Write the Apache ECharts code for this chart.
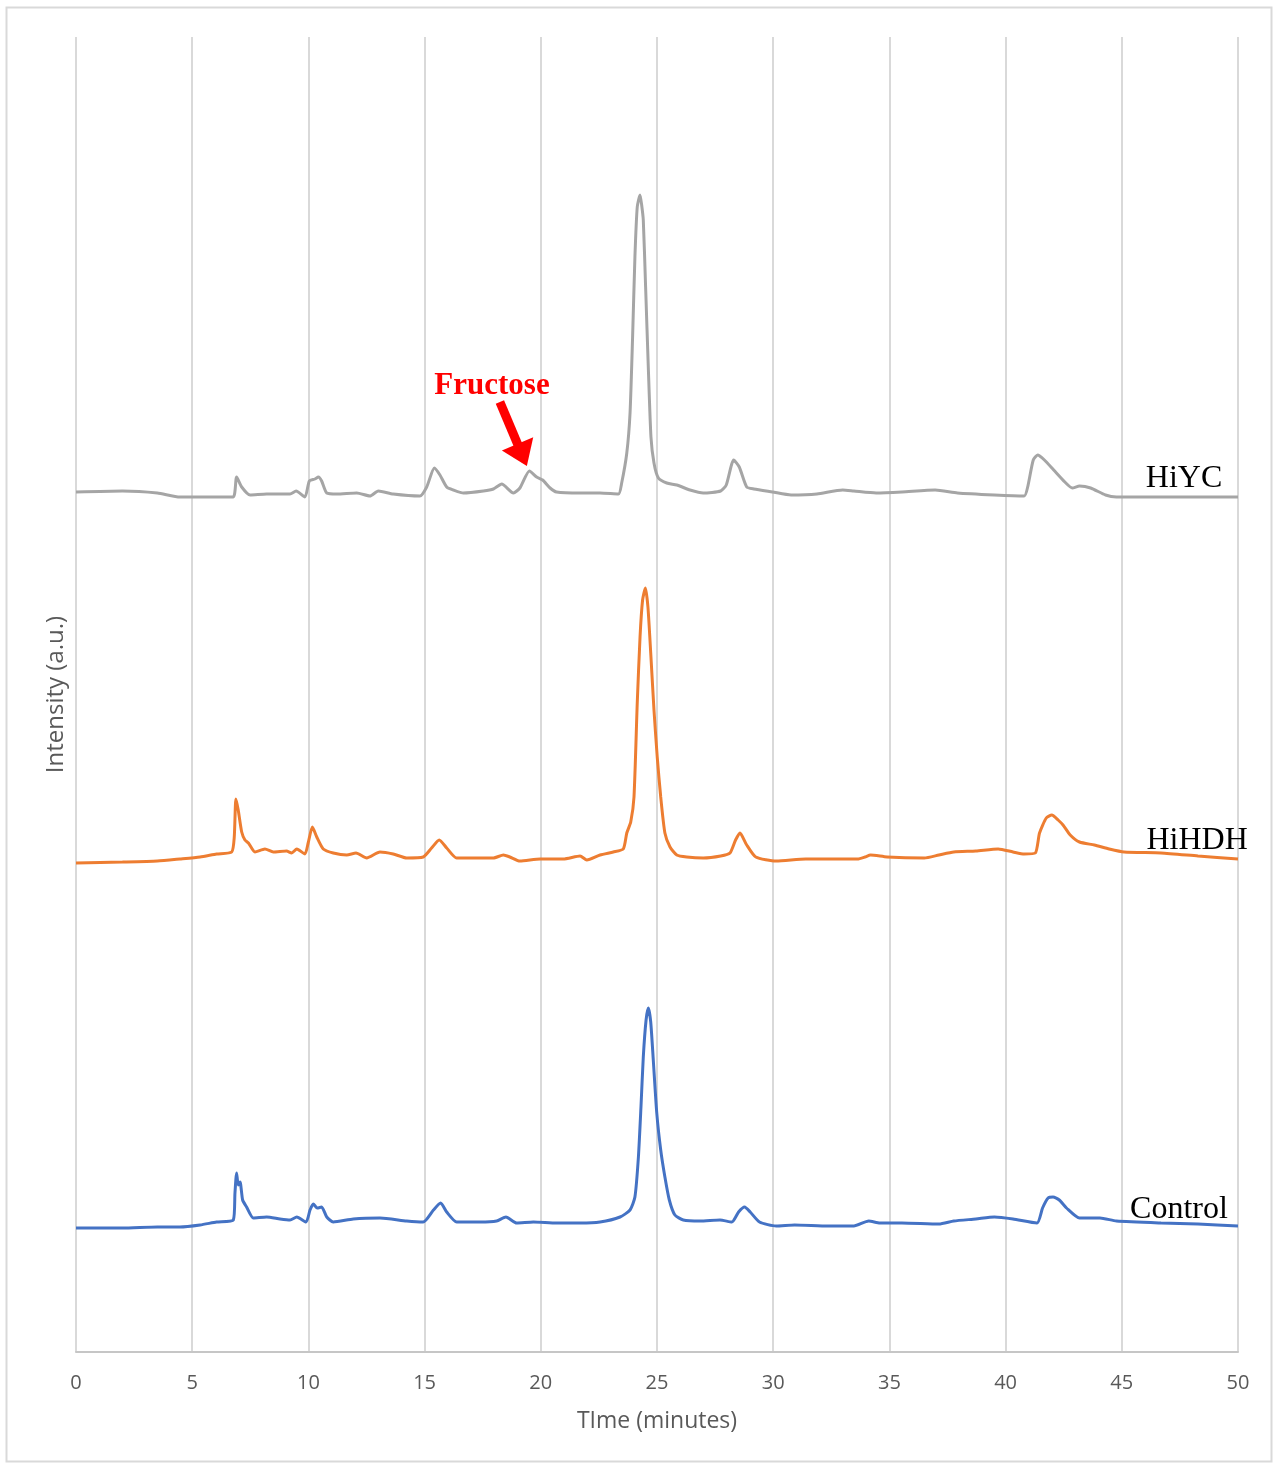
<!DOCTYPE html>
<html>
<head>
<meta charset="utf-8">
<title>Chromatogram</title>
<script src="https://cdn.jsdelivr.net/npm/echarts@6/dist/echarts.min.js"></script>
<style>
  html, body { margin: 0; padding: 0; background: #ffffff; }
  #chart { width: 1276px; height: 1465px; }
</style>
</head>
<body>
<div id="chart"></div>
<script>
// Retention time ticks (minutes)
const timeTicks = [0, 5, 10, 15, 20, 25, 30, 35, 40, 45, 50];

// HiYC trace (stacked on top)
const hiycTime = [0, 2, 3.5, 4.47, 5.3, 6.05, 6.77, 6.91, 7.13, 7.49, 8.2, 9.21, 9.47, 9.85, 10.04, 10.28, 10.43, 10.57, 10.79, 11.22, 12.08, 12.65, 13.01, 13.65, 14.8, 15.09, 15.42, 15.66, 15.95, 16.24, 16.67, 17.53, 17.96, 18.32, 18.82, 19.1, 19.51, 19.82, 20.08, 20.4, 20.68, 21.69, 22.55, 23.34, 23.48, 23.7, 23.84, 23.95, 24.05, 24.15, 24.27, 24.34, 24.41, 24.51, 24.63, 24.74, 24.87, 25.06, 25.42, 25.85, 26.42, 26.99, 27.74, 27.98, 28.3, 28.54, 28.86, 29.17, 29.97, 30.77, 31.88, 32.99, 33.47, 34.43, 35.54, 36.97, 37.93, 39.52, 40.8, 40.95, 41.19, 41.38, 41.67, 42.07, 42.55, 42.87, 43.18, 43.66, 44.3, 44.77, 46.69, 50];
const hiycSignal = [86.0, 86.1, 85.9, 85.5, 85.5, 85.5, 85.5, 87.5, 86.5, 85.7, 85.8, 85.8, 86.1, 85.5, 87.1, 87.3, 87.5, 87.1, 85.9, 85.8, 85.9, 85.6, 86.1, 85.8, 85.6, 86.5, 88.4, 87.7, 86.5, 86.2, 85.9, 86.1, 86.3, 86.8, 85.9, 86.4, 88.1, 87.5, 87.2, 86.4, 86.0, 85.9, 85.9, 85.8, 86.9, 89.9, 93.9, 101.5, 109.5, 114.5, 115.7, 114.7, 113.2, 106.5, 98.2, 91.5, 88.9, 87.4, 86.9, 86.7, 86.2, 85.9, 86.1, 86.7, 89.2, 88.5, 86.5, 86.3, 86.0, 85.7, 85.8, 86.2, 86.1, 85.9, 86.0, 86.2, 85.9, 85.7, 85.6, 86.5, 89.2, 89.7, 89.2, 88.2, 87.0, 86.4, 86.6, 86.4, 85.7, 85.5, 85.5, 85.5];

// HiHDH trace (middle)
const hihdhTime = [0, 2, 3.5, 4.47, 5.34, 6.05, 6.7, 6.81, 6.88, 6.98, 7.13, 7.27, 7.42, 7.7, 8.13, 8.49, 9.06, 9.28, 9.5, 9.85, 9.99, 10.17, 10.36, 10.64, 11.07, 11.65, 12.05, 12.51, 13.08, 13.65, 14.23, 14.94, 15.3, 15.63, 15.95, 16.38, 17.38, 17.96, 18.39, 18.67, 19.1, 19.97, 20.97, 21.69, 21.98, 22.55, 23.12, 23.55, 23.7, 23.87, 24.01, 24.15, 24.27, 24.38, 24.5, 24.61, 24.73, 24.87, 25.01, 25.16, 25.34, 25.56, 25.85, 26.28, 26.99, 27.74, 28.14, 28.38, 28.57, 28.86, 29.25, 30.13, 31.4, 33.63, 33.95, 34.19, 34.9, 36.5, 37.13, 37.77, 38.72, 39.68, 40.32, 40.8, 41.28, 41.46, 41.75, 41.99, 42.26, 42.47, 42.78, 43.18, 43.82, 44.46, 45.1, 46.69, 48.28, 50];
const hihdhSignal = [48.9, 49.0, 49.1, 49.3, 49.5, 49.8, 50.0, 51.5, 55.3, 54.2, 52.0, 51.2, 50.9, 50.0, 50.3, 50.0, 50.1, 49.9, 50.3, 49.8, 50.9, 52.5, 51.5, 50.3, 49.9, 49.7, 49.9, 49.4, 50.0, 49.8, 49.4, 49.5, 50.4, 51.2, 50.4, 49.4, 49.4, 49.4, 49.7, 49.5, 49.1, 49.3, 49.3, 49.6, 49.2, 49.7, 50.0, 50.3, 51.9, 53.0, 55.5, 64.9, 71.5, 75.2, 76.4, 74.5, 69.9, 64.2, 59.5, 55.5, 51.9, 50.5, 49.7, 49.5, 49.4, 49.6, 49.9, 51.2, 51.9, 50.7, 49.5, 49.1, 49.3, 49.3, 49.5, 49.7, 49.5, 49.4, 49.7, 50.0, 50.1, 50.3, 50.0, 49.8, 49.9, 51.9, 53.4, 53.7, 53.2, 52.7, 51.7, 51.0, 50.7, 50.3, 50.0, 49.9, 49.6, 49.3];

// Control trace (bottom)
const controlTime = [0, 2, 3.5, 4.47, 5.34, 6.05, 6.77, 6.84, 6.91, 6.98, 7.06, 7.17, 7.34, 7.63, 8.2, 8.78, 9.21, 9.5, 9.9, 10.07, 10.21, 10.38, 10.57, 10.79, 11.07, 11.93, 13.08, 14.23, 14.94, 15.38, 15.69, 15.95, 16.38, 17.38, 18.1, 18.5, 18.96, 19.68, 20.68, 21.69, 22.55, 23.41, 23.84, 24.05, 24.2, 24.31, 24.41, 24.53, 24.63, 24.73, 24.84, 24.99, 25.16, 25.34, 25.53, 25.77, 26.13, 26.85, 27.71, 28.22, 28.51, 28.77, 29.01, 29.41, 30.13, 30.92, 32.36, 33.47, 34.11, 34.59, 35.54, 37.13, 37.77, 38.72, 39.52, 40.32, 41.35, 41.59, 41.83, 42.04, 42.31, 42.62, 43.18, 44.06, 44.77, 46.69, 48.28, 50];
const controlSignal = [12.4, 12.4, 12.5, 12.5, 12.7, 13.0, 13.2, 15.9, 17.9, 16.7, 17.0, 15.2, 14.5, 13.4, 13.5, 13.3, 13.2, 13.5, 13.0, 14.2, 14.8, 14.4, 14.5, 13.5, 13.0, 13.3, 13.4, 13.1, 13.0, 14.2, 14.9, 14.0, 13.0, 13.0, 13.1, 13.5, 12.9, 13.0, 12.9, 12.9, 13.0, 13.5, 14.2, 15.5, 19.5, 24.5, 29.5, 33.2, 34.4, 33.0, 29.2, 23.9, 20.2, 17.5, 15.2, 13.7, 13.2, 13.1, 13.2, 13.0, 14.0, 14.5, 14.0, 13.0, 12.6, 12.7, 12.6, 12.6, 13.1, 12.9, 12.9, 12.8, 13.1, 13.3, 13.5, 13.3, 12.9, 14.4, 15.4, 15.5, 15.2, 14.4, 13.4, 13.4, 13.1, 12.9, 12.8, 12.6];

// Trace names and where their text sits [time, intensity]
const traceNames = ['HiYC', 'HiHDH', 'Control'];
const traceLabelAt = [[47.68, 87.3], [48.24, 51.1], [47.46, 14.2]];

// Fructose annotation: text centre, arrow tail and arrow head centre
const fructoseText = 'Fructose';
const fructoseTextAt = [17.9, 96.6];
const fructoseArrow = [[18.24, 95.0], [19.2, 89.7]];

const zip = (xs, ys) => xs.map((x, i) => [x, ys[i]]);

const axisFont = '"Open Sans", "Liberation Sans", sans-serif';
const serifFont = '"Liberation Serif", "DejaVu Serif", serif';

function nameLabel(idx) {
  return {
    symbol: 'circle',
    symbolSize: 1,
    silent: true,
    itemStyle: { color: 'rgba(0,0,0,0)' },
    label: {
      show: true,
      position: 'inside',
      formatter: traceNames[idx],
      color: '#000000',
      fontFamily: serifFont,
      fontSize: 32
    },
    data: [{ coord: traceLabelAt[idx] }]
  };
}

const chart = echarts.init(document.getElementById('chart'), null, { renderer: 'canvas' });

chart.setOption({
  animation: false,
  backgroundColor: '#ffffff',
  graphic: [{
    type: 'rect',
    shape: { x: 6.5, y: 7.5, width: 1265, height: 1454 },
    style: { fill: 'none', stroke: '#d9d9d9', lineWidth: 2 },
    silent: true,
    z: -1
  }],
  grid: { left: 76, right: 38, top: 37, bottom: 113 },
  xAxis: {
    type: 'value',
    min: 0,
    max: 50,
    interval: 5,
    name: 'TIme (minutes)',
    nameLocation: 'middle',
    nameGap: 58,
    nameTextStyle: { fontFamily: axisFont, fontSize: 23, color: '#595959' },
    axisLine: { show: true, lineStyle: { color: '#c6c6c6', width: 2 } },
    axisTick: { show: false },
    axisLabel: {
      margin: 21,
      fontFamily: axisFont,
      fontSize: 20,
      color: '#595959',
      formatter: v => (timeTicks.includes(v) ? String(v) : '')
    },
    splitLine: { show: true, lineStyle: { color: '#d9d9d9', width: 2 } }
  },
  yAxis: {
    type: 'value',
    min: 0,
    max: 131.5,
    name: 'Intensity (a.u.)',
    nameLocation: 'middle',
    nameGap: 8,
    nameTextStyle: { fontFamily: axisFont, fontSize: 24, color: '#595959' },
    axisLine: { show: false },
    axisTick: { show: false },
    axisLabel: { show: false },
    splitLine: { show: false }
  },
  series: [
    {
      name: 'Control',
      type: 'line',
      data: zip(controlTime, controlSignal),
      showSymbol: false,
      smooth: 0.2,
      lineStyle: { color: '#4472c4', width: 3 },
      itemStyle: { color: '#4472c4' },
      markPoint: nameLabel(2)
    },
    {
      name: 'HiHDH',
      type: 'line',
      data: zip(hihdhTime, hihdhSignal),
      showSymbol: false,
      smooth: 0.2,
      lineStyle: { color: '#ed7d31', width: 3 },
      itemStyle: { color: '#ed7d31' },
      markPoint: nameLabel(1)
    },
    {
      name: 'HiYC',
      type: 'line',
      data: zip(hiycTime, hiycSignal),
      showSymbol: false,
      smooth: 0.2,
      lineStyle: { color: '#a5a5a5', width: 3 },
      itemStyle: { color: '#a5a5a5' },
      markPoint: {
        symbol: 'circle',
        symbolSize: 1,
        silent: true,
        itemStyle: { color: 'rgba(0,0,0,0)' },
        label: {
          show: true,
          position: 'inside',
          color: '#000000',
          fontFamily: serifFont,
          fontSize: 32
        },
        data: [
          { coord: traceLabelAt[0], label: { formatter: traceNames[0] } },
          {
            coord: fructoseTextAt,
            label: {
              formatter: fructoseText,
              color: '#ff0000',
              fontWeight: 'bold',
              fontSize: 31
            }
          }
        ]
      },
      markLine: {
        silent: true,
        animation: false,
        label: { show: false },
        lineStyle: { color: '#ff0000', width: 9, type: 'solid' },
        emphasis: { disabled: true },
        data: [[
          { coord: fructoseArrow[0], symbol: 'none' },
          { coord: fructoseArrow[1], symbol: 'triangle', symbolSize: [34, 24] }
        ]]
      }
    }
  ]
});
</script>
</body>
</html>
